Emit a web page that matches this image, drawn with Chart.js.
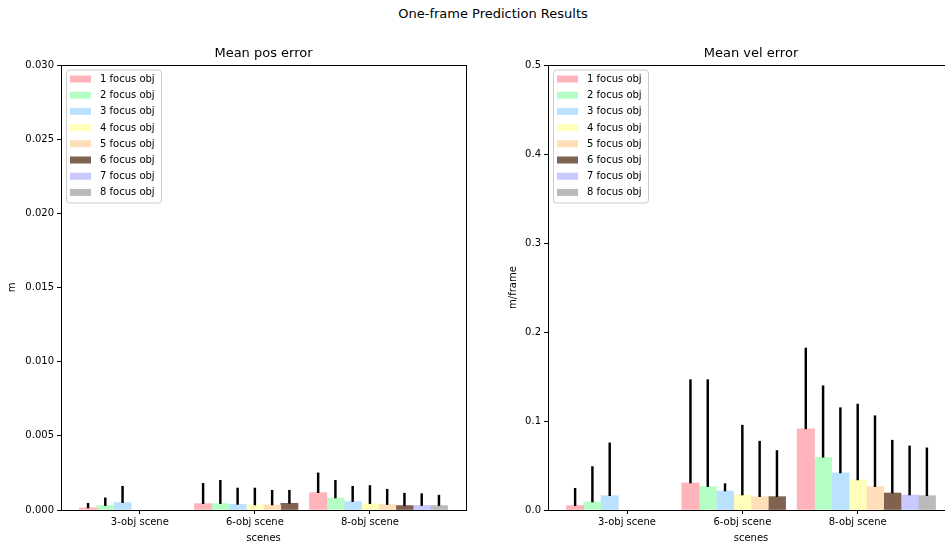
<!DOCTYPE html>
<html>
<head>
<meta charset="utf-8">
<script src="https://cdn.jsdelivr.net/npm/chart.js@4.4.1/dist/chart.umd.min.js"></script>
<style>
  html, body { margin: 0; padding: 0; background: #fff; overflow: hidden; width: 945px; height: 544px; }
  #suptitle { position: absolute; left: 0; top: 6px; width: 986px; text-align: center; font: 13px 'DejaVu Sans', sans-serif; color: #000; }
  canvas { position: absolute; top: 0; }
</style>
</head>
<body>
<div id="suptitle">One-frame Prediction Results</div>
<canvas id="pos" width="480" height="544" style="left:0"></canvas>
<canvas id="vel" width="480" height="544" style="left:488px"></canvas>
<script>
/* Kategorier och serier */
const scenes = ['3-obj scene', '6-obj scene', '8-obj scene'];
const focusLabels = ['1 focus obj', '2 focus obj', '3 focus obj', '4 focus obj',
  '5 focus obj', '6 focus obj', '7 focus obj', '8 focus obj'];
const colors = ['#ffb3ba', '#b5ffc6', '#bae1ff', '#ffffba', '#ffdfba', '#7f6350', '#c9c9ff', '#bababa'];

/* Medelfel position (m), en array per scen, ett värde per antal fokusobjekt */
const posMean3 = [0.00014, 0.00030, 0.00050];
const posMean6 = [0.00043, 0.00043, 0.00038, 0.00034, 0.00034, 0.00045];
const posMean8 = [0.00117, 0.00081, 0.00057, 0.00043, 0.00037, 0.00030, 0.00030, 0.00030];
const posStd3 = [0.00031, 0.00052, 0.00110];
const posStd6 = [0.00137, 0.00157, 0.00110, 0.00114, 0.00099, 0.00088];
const posStd8 = [0.00133, 0.00119, 0.00103, 0.00122, 0.00103, 0.00083, 0.00080, 0.00070];

/* Medelfel hastighet (m/frame) */
const velMean3 = [0.0049, 0.0090, 0.0161];
const velMean6 = [0.0304, 0.0263, 0.0214, 0.0169, 0.0150, 0.0150];
const velMean8 = [0.0912, 0.0593, 0.0417, 0.0338, 0.0263, 0.0191, 0.0169, 0.0161];
const velStd3 = [0.0195, 0.0398, 0.0593];
const velStd6 = [0.1160, 0.1201, 0.0082, 0.0784, 0.0623, 0.0518];
const velStd8 = [0.0908, 0.0803, 0.0732, 0.0852, 0.0796, 0.0593, 0.0551, 0.0537];

const barWidth = 0.15;
const tickOffset = 0.45;
const font = { family: "'DejaVu Sans', sans-serif", size: 10 };

/* Ram runt ritytan, som matplotlib */
const framePlugin = {
  id: 'frame',
  afterDatasetsDraw(chart) {
    const { ctx, chartArea: a } = chart;
    ctx.save();
    ctx.strokeStyle = '#000';
    ctx.lineWidth = 1;
    ctx.strokeRect(Math.round(a.left) + 0.5, Math.round(a.top) + 0.5,
      Math.round(a.right - a.left), Math.round(a.bottom - a.top));
    ctx.restore();
  }
};

/* Legend inuti ritytan uppe till vänster */
const innerLegend = {
  id: 'innerLegend',
  afterDraw(chart) {
    const { ctx, chartArea: a } = chart;
    const items = chart.data.datasets.filter((d) => !d.isError);
    const x = a.left + 5.5, y = a.top + 5;
    ctx.save();
    ctx.beginPath();
    ctx.roundRect(x, y, 95, 133, 3);
    ctx.fillStyle = 'rgba(255,255,255,0.8)';
    ctx.fill();
    ctx.strokeStyle = '#cccccc';
    ctx.lineWidth = 1;
    ctx.stroke();
    ctx.font = "10px 'DejaVu Sans', sans-serif";
    ctx.textBaseline = 'middle';
    items.forEach((d, i) => {
      const cy = a.top + 14 + i * 16.2;
      ctx.fillStyle = d.backgroundColor;
      ctx.fillRect(x + 3.5, cy - 3.5, 21, 7);
      ctx.fillStyle = '#000';
      ctx.fillText(d.label, a.left + 39, cy + 0.5);
    });
    ctx.restore();
  }
};

function buildDatasets(means, stds) {
  const datasets = [];
  focusLabels.forEach((label, k) => {
    const bars = [], errs = [];
    means.forEach((sceneMeans, i) => {
      if (k < sceneMeans.length) {
        const xPos = i + k * barWidth;
        bars.push({ x: xPos, y: sceneMeans[k] });
        errs.push({ x: xPos, y: [sceneMeans[k], sceneMeans[k] + stds[i][k]] });
      }
    });
    datasets.push({
      label, data: bars, backgroundColor: colors[k], order: 1,
      grouped: false, barPercentage: 1, categoryPercentage: 1
    });
    datasets.push({
      label: '', data: errs, backgroundColor: '#000', order: 0, isError: true,
      grouped: false, barPercentage: 1, categoryPercentage: 1, maxBarThickness: 1.8
    });
  });
  return datasets;
}

function makeChart(id, title, yLabel, yMax, yStep, decimals, means, stds, yWidth, yTitlePad) {
  new Chart(document.getElementById(id), {
    type: 'bar',
    data: { datasets: buildDatasets(means, stds) },
    plugins: [framePlugin, innerLegend],
    options: {
      responsive: false,
      animation: false,
      devicePixelRatio: 1,
      layout: { padding: { top: 46, right: 14, left: 0, bottom: 0 } },
      plugins: {
        legend: { display: false },
        tooltip: { enabled: false },
        title: {
          display: true, text: title, fullSize: false, color: '#000',
          font: { family: "'DejaVu Sans', sans-serif", size: 13, weight: 'normal' },
          padding: { top: 0, bottom: 3.4 }
        }
      },
      scales: {
        x: {
          type: 'linear', min: -0.235, max: 3.285, offset: false,
          afterBuildTicks: (s) => { s.ticks = scenes.map((_, i) => ({ value: i + tickOffset })); },
          afterFit: (s) => { s.height = 34; },
          ticks: { callback: (v, i) => scenes[i], font, color: '#000', padding: 2, maxRotation: 0, autoSkip: false },
          grid: { drawOnChartArea: false, drawTicks: true, tickLength: 4, tickColor: '#000', offset: false },
          border: { display: false },
          title: { display: true, text: 'scenes', font, color: '#000', padding: { top: 1, bottom: 0 } }
        },
        y: {
          min: 0, max: yMax,
          afterFit: (s) => { s.width = yWidth; },
          ticks: { stepSize: yStep, callback: (v) => v.toFixed(decimals), font, color: '#000', padding: 3 },
          grid: { drawOnChartArea: false, drawTicks: true, tickLength: 4, tickColor: '#000' },
          border: { display: false },
          title: { display: true, text: yLabel, font, color: '#000', padding: { top: yTitlePad, bottom: 0 } }
        }
      }
    }
  });
}

makeChart('pos', 'Mean pos error', 'm', 0.03, 0.005, 3,
  [posMean3, posMean6, posMean8], [posStd3, posStd6, posStd8], 61, 6);
makeChart('vel', 'Mean vel error', 'm/frame', 0.5, 0.1, 1,
  [velMean3, velMean6, velMean8], [velStd3, velStd6, velStd8], 60, 19);
</script>
</body>
</html>
